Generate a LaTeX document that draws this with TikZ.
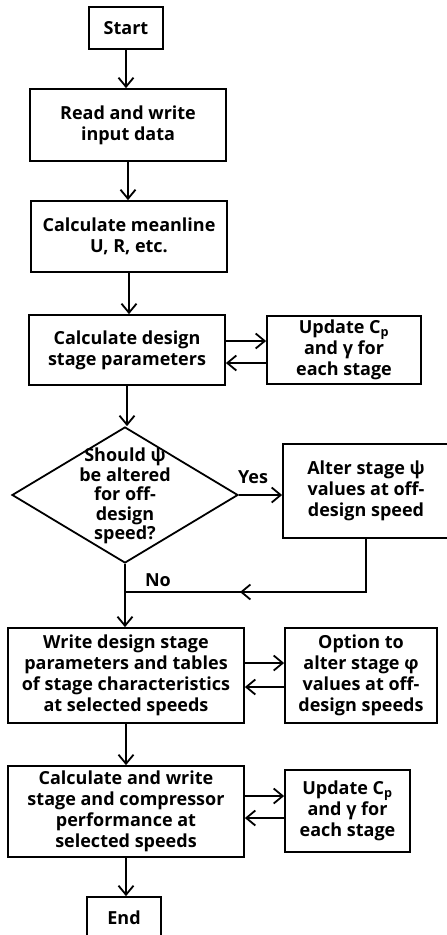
\documentclass[tikz,border=0pt]{standalone}
\usepackage{fontspec}
\setmainfont{Open Sans}
\usetikzlibrary{arrows.meta,shapes.geometric,calc}
\begin{document}
\begin{tikzpicture}[x=1pt,y=-1pt,
  every node/.style={font=\bfseries\fontsize{18}{21}\selectfont, align=center, inner sep=0pt},
  box/.style={draw, line width=1.8pt, rectangle},
  ln/.style={line width=1.8pt},
  arr/.style={-{Straight Barb[length=9pt,width=15pt]}, line width=1.8pt}]
\fill[white] (0,0) rectangle (447,935);
\useasboundingbox (0,0) rectangle (447,935);
\node[box,minimum width=74pt,minimum height=42pt] (start) at (126,28) {Start};
\node[box,minimum width=196pt,minimum height=72pt] (read) at (128,125) {Read and write\\input data};
\node[box,minimum width=196pt,minimum height=71pt] (mean) at (129,236.5) {Calculate meanline\\U, R, etc.};
\node[box,minimum width=196pt,minimum height=70pt] (design) at (127,350) {Calculate design\\stage parameters};
\node[box,minimum width=154pt,minimum height=68pt] (upd1) at (344,350) {Update C\textsubscript{p}\\and γ for\\each stage};
\node[draw,diamond,ln,minimum width=226pt,minimum height=136pt] (dia) at (125,495) {};
\node[font=\bfseries\fontsize{18}{19.5}\selectfont] (diatext) at (125,496) {Should ψ\\be altered\\for off-\\design\\speed?};
\node[box,minimum width=166pt,minimum height=94pt] (alter) at (366,491) {Alter stage ψ\\values at off-\\design speed};
\node[box,minimum width=236pt,minimum height=95pt] (write) at (126,675.5) {Write design stage\\parameters and tables\\of stage characteristics\\at selected speeds};
\node[box,minimum width=152pt,minimum height=95pt] (option) at (361,675.5) {Option to\\alter stage φ\\values at off-\\design speeds};
\node[box,minimum width=236pt,minimum height=91pt] (calc) at (126,811.5) {Calculate and write\\stage and compressor\\performance at\\selected speeds};
\node[box,minimum width=125pt,minimum height=82pt] (upd2) at (347.5,811) {Update C\textsubscript{p}\\and γ for\\each stage};
\node[box,minimum width=74pt,minimum height=42pt] (end) at (124,918) {End};
\node (yes) at (253,477) {Yes};
\node (no) at (158,580) {No};
% main flow
\draw[arr] (start.south) -- (start.south |- read.north);
\draw[arr] (read.south) -- (read.south |- mean.north);
\draw[arr] (mean.south) -- (mean.south |- design.north);
\draw[arr] (design.south) -- (design.south |- dia.north);
\draw[arr] (dia.south) -- (dia.south |- write.north);
\draw[arr] (write.south) -- (write.south |- calc.north);
\draw[arr] (calc.south) -- (calc.south |- end.north);
% side loops
\coordinate (d1) at ($(design.east)+(0,-9)$);
\coordinate (d2) at ($(design.east)+(0,13)$);
\draw[arr] (d1) -- (d1 -| upd1.west);
\draw[arr] (d2 -| upd1.west) -- (d2);
\coordinate (w1) at ($(write.east)+(0,-12.5)$);
\coordinate (w2) at ($(write.east)+(0,11.5)$);
\draw[arr] (w1) -- (w1 -| option.west);
\draw[arr] (w2 -| option.west) -- (w2);
\coordinate (c1) at ($(calc.east)+(0,-15.5)$);
\coordinate (c2) at ($(calc.east)+(0,6.5)$);
\draw[arr] (c1) -- (c1 -| upd2.west);
\draw[arr] (c2 -| upd2.west) -- (c2);
% decision
\draw[arr] (dia.east) -- (dia.east -| alter.west);
\coordinate (j) at (125,592);
\coordinate (retmid) at (240,592);
\draw[ln] (alter.south) |- (j);
\draw[arr] (alter.south |- j) -- (retmid);
\end{tikzpicture}
\end{document}
